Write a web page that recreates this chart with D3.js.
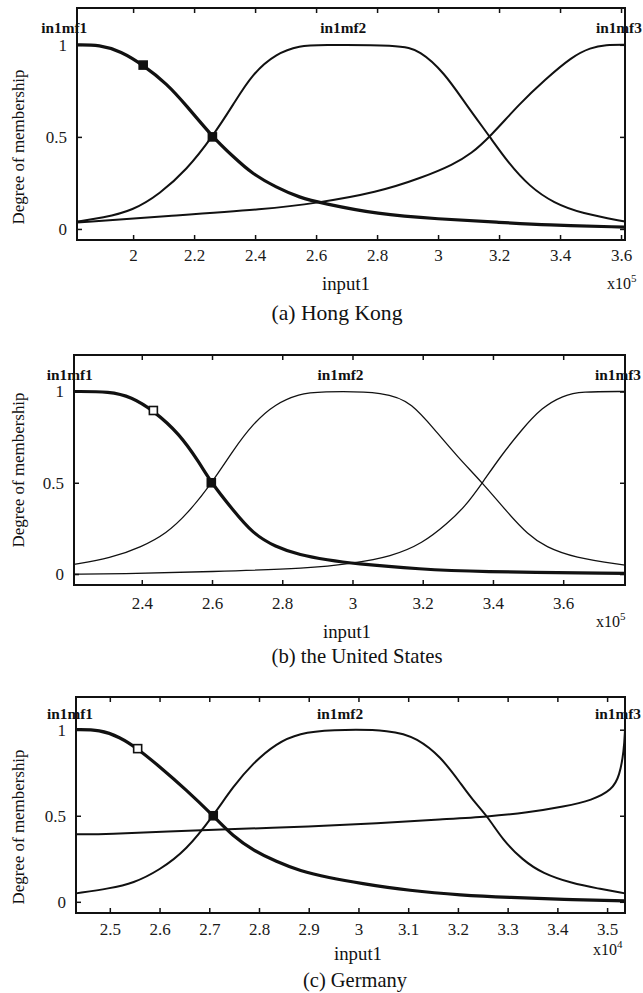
<!DOCTYPE html>
<html lang="en">
<head>
<meta charset="UTF-8">
<title>Membership functions</title>
<script src="https://cdnjs.cloudflare.com/ajax/libs/d3/7.8.5/d3.min.js"></script>
<style>
    body { margin: 0; background: #fff; }
    svg { display: block; }
    svg text { font-family: "Liberation Serif", "DejaVu Serif", "Noto Serif", "Times New Roman", Times, FreeSerif, serif; }
</style>
</head>
<body>
<svg id="chart" width="643" height="993"></svg>
<script>
// ---- data ----
var mfNames = ["in1mf1", "in1mf2", "in1mf3"];
var yTicks = [0, 0.5, 1];
var captions = ["(a) Hong Kong", "(b) the United States", "(c) Germany"];
var exponents = ["5", "5", "4"];

// (a) Hong Kong, input1 in units of 1e5
var hkDomain = [1.816, 3.613];
var hkTicks = [2, 2.2, 2.4, 2.6, 2.8, 3, 3.2, 3.4, 3.6];
var hkMf1 = [[1.816,1],[1.89,1],[1.96,0.965],[2.033,0.89],[2.11,0.79],[2.175,0.67],[2.26,0.5],[2.33,0.39],
             [2.39,0.3],[2.47,0.225],[2.546,0.17],[2.62,0.14],[2.8,0.08],[3.0,0.054],[3.2,0.036],[3.35,0.022],[3.613,0.01]];
var hkMf2 = [[1.816,0.04],[1.9,0.06],[2.0,0.1],[2.087,0.19],[2.175,0.32],[2.26,0.5],[2.33,0.68],[2.39,0.84],
             [2.47,0.955],[2.55,0.995],[2.6,1],[2.875,1],[2.94,0.97],[3.02,0.85],[3.09,0.68],[3.17,0.5],[3.23,0.36],
             [3.3,0.23],[3.38,0.14],[3.47,0.085],[3.613,0.04]];
var hkMf3 = [[1.816,0.035],[2.11,0.07],[2.44,0.108],[2.6,0.14],[2.8,0.198],[2.95,0.28],[3.05,0.35],[3.11,0.41],
             [3.17,0.5],[3.27,0.685],[3.35,0.81],[3.44,0.937],[3.5,0.985],[3.55,1],[3.613,1]];
var hkLabelAt = [1.774, 2.689, 3.593];
var hkMarks = [[2.033, 0.89, "fill"], [2.26, 0.5, "fill"]];

// (b) the United States, input1 in units of 1e5
var usDomain = [2.207, 3.776];
var usTicks = [2.4, 2.6, 2.8, 3, 3.2, 3.4, 3.6];
var usMf1 = [[2.207,1],[2.31,1],[2.37,0.97],[2.433,0.896],[2.507,0.769],[2.564,0.61],[2.598,0.5],[2.66,0.35],
             [2.716,0.222],[2.78,0.149],[2.85,0.104],[2.93,0.077],[3.0,0.058],[3.2,0.026],[3.34,0.013],[3.776,0.004]];
var usMf2 = [[2.207,0.053],[2.31,0.086],[2.4,0.149],[2.47,0.222],[2.53,0.33],[2.6,0.5],[2.66,0.678],[2.716,0.823],
             [2.78,0.933],[2.85,0.987],[2.9,1],[3.1,1],[3.17,0.933],[3.23,0.8],[3.3,0.64],[3.37,0.5],[3.44,0.34],
             [3.5,0.215],[3.55,0.149],[3.63,0.09],[3.776,0.049]];
var usMf3 = [[2.207,0],[2.33,0],[2.6,0.013],[2.878,0.031],[3.0,0.058],[3.11,0.095],[3.2,0.168],[3.27,0.277],
             [3.32,0.368],[3.37,0.5],[3.42,0.64],[3.48,0.787],[3.54,0.914],[3.6,0.978],[3.65,1],[3.776,1]];
var usLabelAt = [2.195, 2.966, 3.756];
var usMarks = [[2.433, 0.896, "open"], [2.598, 0.5, "fill"]];

// (c) Germany, input1 in units of 1e4
var deDomain = [2.432, 3.536];
var deTicks = [2.5, 2.6, 2.7, 2.8, 2.9, 3, 3.1, 3.2, 3.3, 3.4, 3.5];
var deMf1 = [[2.432,1],[2.48,1],[2.52,0.957],[2.556,0.89],[2.6,0.786],[2.654,0.65],[2.708,0.5],[2.748,0.38],
             [2.788,0.3],[2.835,0.233],[2.882,0.18],[2.94,0.14],[3.003,0.107],[3.104,0.064],[3.205,0.039],
             [3.306,0.025],[3.41,0.014],[3.536,0.006]];
var deMf2 = [[2.432,0.049],[2.5,0.078],[2.547,0.107],[2.6,0.184],[2.654,0.3],[2.708,0.5],[2.748,0.67],[2.788,0.806],
             [2.835,0.922],[2.882,0.98],[2.94,1],[3.07,1],[3.118,0.95],[3.165,0.845],[3.205,0.69],[3.23,0.59],
             [3.26,0.495],[3.29,0.36],[3.33,0.243],[3.37,0.165],[3.43,0.107],[3.48,0.078],[3.536,0.049]];
var deMf3 = [[2.432,0.392],[2.5,0.394],[2.614,0.408],[2.748,0.423],[2.902,0.437],[3.037,0.456],[3.17,0.48],
             [3.26,0.495],[3.34,0.518],[3.414,0.553],[3.47,0.59],[3.51,0.65],[3.525,0.73],[3.534,0.88],[3.536,1]];
var deLabelAt = [2.42, 2.963, 3.522];
var deMarks = [[2.556, 0.89, "open"], [2.708, 0.5, "fill"]];

// ---- layout ----
var panels = [
    { left: 77, right: 625, top: 8,   bottom: 240, yDom: [-0.06, 1.2],  dom: hkDomain, ticks: hkTicks,
      mfs: [hkMf1, hkMf2, hkMf3], labelAt: hkLabelAt, marks: hkMarks, thin: 2,
      tickPad: 9, yLabY: 147, inputX: 346, inputY: 290, expX: 607, expY: 289,
      capX: 337, capY: 320, capW: 131 },
    { left: 74, right: 625, top: 355, bottom: 585, yDom: [-0.06, 1.2],  dom: usDomain, ticks: usTicks,
      mfs: [usMf1, usMf2, usMf3], labelAt: usLabelAt, marks: usMarks, thin: 1.3,
      tickPad: 12, yLabY: 470, inputX: 347, inputY: 638, expX: 596, expY: 627,
      capX: 357, capY: 663, capW: 171 },
    { left: 76, right: 625, top: 697, bottom: 913, yDom: [-0.065, 1.19], dom: deDomain, ticks: deTicks,
      mfs: [deMf1, deMf2, deMf3], labelAt: deLabelAt, marks: deMarks, thin: 2,
      tickPad: 10, yLabY: 827, inputX: 358, inputY: 960, expX: 593, expY: 955,
      capX: 355, capY: 987, capW: 104 }
];

var svg = d3.select("#chart");

panels.forEach(function(p, i) {
    var x = d3.scaleLinear().domain(p.dom).range([p.left, p.right]);
    var y = d3.scaleLinear().domain(p.yDom).range([p.bottom, p.top]);
    var g = svg.append("g");

    // inward ticks on all four sides
    g.append("g").attr("transform", "translate(0," + p.bottom + ")")
        .call(d3.axisBottom(x).tickValues(p.ticks).tickSize(-5).tickPadding(p.tickPad).tickFormat(function(d){ return String(d); }));
    g.append("g").attr("transform", "translate(0," + p.top + ")")
        .call(d3.axisTop(x).tickValues(p.ticks).tickSize(-5).tickFormat(""));
    g.append("g").attr("transform", "translate(" + p.left + ",0)")
        .call(d3.axisLeft(y).tickValues(yTicks).tickSize(-5).tickPadding(10).tickFormat(function(d){ return String(d); }));
    g.append("g").attr("transform", "translate(" + p.right + ",0)")
        .call(d3.axisRight(y).tickValues(yTicks).tickSize(-5).tickFormat(""));

    g.selectAll(".domain").remove();
    g.selectAll("g").attr("font-family", null).attr("font-size", null);
    g.selectAll(".tick line").attr("stroke", "#111").attr("stroke-width", 1.5);
    g.selectAll(".tick text").attr("font-size", 17).attr("fill", "#1a1a1a");

    // frame
    g.append("rect")
        .attr("x", p.left).attr("y", p.top)
        .attr("width", p.right - p.left).attr("height", p.bottom - p.top)
        .attr("fill", "none").attr("stroke", "#111").attr("stroke-width", 2);

    // membership curves
    var line = d3.line()
        .x(function(d){ return x(d[0]); })
        .y(function(d){ return y(d[1]); })
        .curve(d3.curveBasis);

    p.mfs.forEach(function(mf, k) {
        g.append("path")
            .datum(mf)
            .attr("d", line)
            .attr("fill", "none")
            .attr("stroke", "#111")
            .attr("stroke-width", k === 0 ? 3.2 : p.thin)
            .attr("stroke-linejoin", "round");
    });

    // small square markers on in1mf1
    g.selectAll(".mark").data(p.marks).enter().append("rect")
        .attr("x", function(d){ return x(d[0]) - 4; })
        .attr("y", function(d){ return y(d[1]) - 4; })
        .attr("width", 8).attr("height", 8)
        .attr("fill", function(d){ return d[2] === "fill" ? "#111" : "#fff"; })
        .attr("stroke", "#111").attr("stroke-width", 1.6);

    // mf names
    g.selectAll(".mfname").data(mfNames).enter().append("text")
        .attr("x", function(d, k){ return x(p.labelAt[k]); })
        .attr("y", y(1.09) + 5)
        .attr("text-anchor", "middle")
        .attr("font-size", 15).attr("font-weight", "bold")
        .attr("textLength", 46).attr("lengthAdjust", "spacingAndGlyphs")
        .attr("fill", "#111")
        .text(function(d){ return d; });

    // y label
    g.append("text")
        .attr("transform", "translate(24," + p.yLabY + ") rotate(-90)")
        .attr("text-anchor", "middle")
        .attr("font-size", 17).attr("fill", "#111")
        .attr("textLength", 155).attr("lengthAdjust", "spacingAndGlyphs")
        .text("Degree of membership");

    // x label, multiplier and caption
    g.append("text")
        .attr("x", p.inputX).attr("y", p.inputY)
        .attr("text-anchor", "middle")
        .attr("font-size", 18).attr("fill", "#111")
        .attr("textLength", 48).attr("lengthAdjust", "spacingAndGlyphs")
        .text("input1");

    var ex = g.append("text")
        .attr("x", p.expX).attr("y", p.expY)
        .attr("font-size", 16).attr("fill", "#111");
    ex.append("tspan").text("x10");
    ex.append("tspan").attr("dy", -7).attr("font-size", 11).text(exponents[i]);

    g.append("text")
        .attr("x", p.capX).attr("y", p.capY)
        .attr("text-anchor", "middle")
        .attr("font-size", 21).attr("fill", "#111")
        .attr("textLength", p.capW).attr("lengthAdjust", "spacingAndGlyphs")
        .text(captions[i]);
});
</script>
</body>
</html>
